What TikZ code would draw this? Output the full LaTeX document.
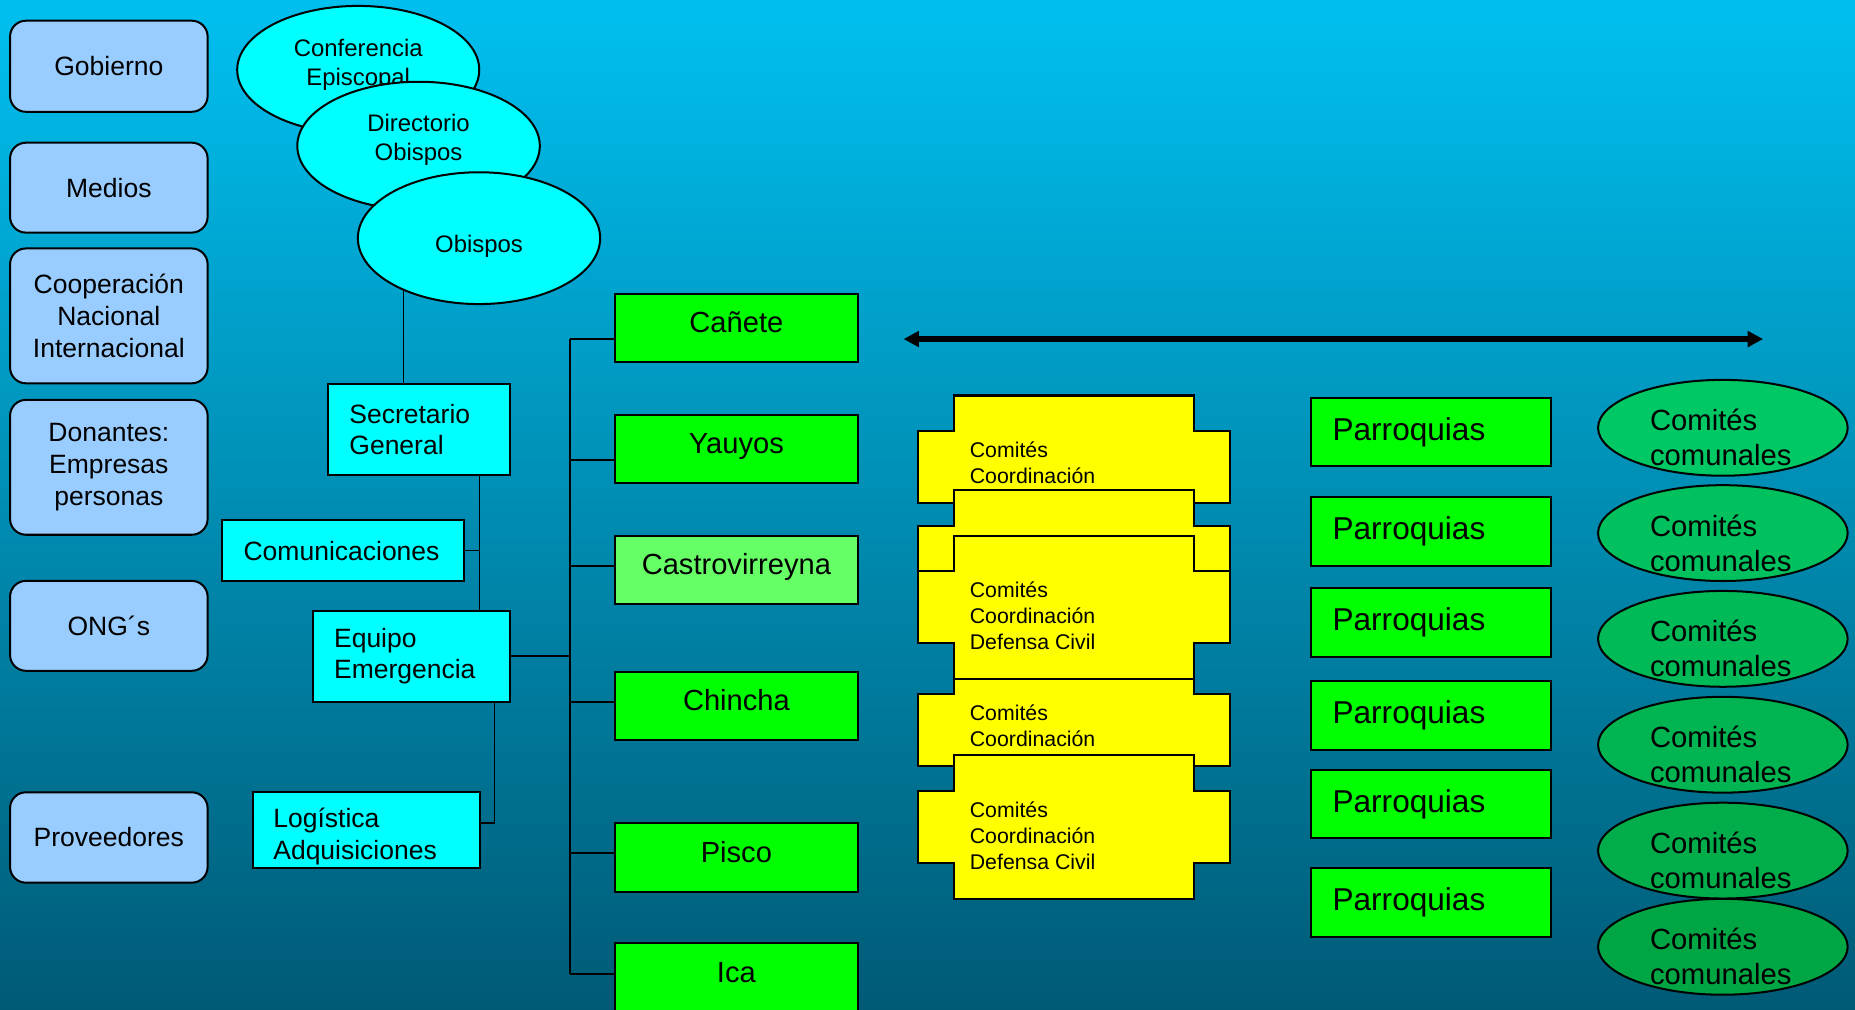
\documentclass[tikz,border=0pt]{standalone}
\usepackage{fontspec}
\setmainfont{Liberation Sans}
\usetikzlibrary{shapes.geometric,arrows.meta}

\definecolor{bgtop}{RGB}{0,192,240}
\definecolor{bgbot}{RGB}{0,90,118}
\definecolor{lblue}{RGB}{153,204,255}
\definecolor{aqua}{RGB}{0,255,255}
\definecolor{vgreen}{RGB}{0,255,0}
\definecolor{lgreen}{RGB}{102,255,102}
\definecolor{vyellow}{RGB}{255,255,0}
\definecolor{cgtop}{RGB}{0,200,100}
\definecolor{cgbot}{RGB}{0,166,68}

\tikzset{pics/comite/.style={code={
  \draw[comite] (0,0) -- ++(202.5,0) -- ++(0,30) -- ++(31,0) -- ++(0,61) -- ++(-31,0) -- ++(0,30)
    -- ++(-202.5,0) -- ++(0,-30) -- ++(-30.8,0) -- ++(0,-61) -- ++(30.8,0) -- cycle;}}}

\begin{document}
\begin{tikzpicture}[x=0.5pt,y=-0.5pt,
    leftbox/.style={draw,line width=0.85pt,fill=lblue,rounded corners=6.7pt,minimum width=83.5pt,
      align=center,font=\fontsize{11.2pt}{13.5pt}\selectfont},
    bell/.style={ellipse,draw,line width=0.85pt,fill=aqua,inner sep=0pt},
    belltxt/.style={align=center,inner sep=0pt,font=\fontsize{10.1pt}{12.1pt}\selectfont},
    cyanbox/.style={draw,line width=0.85pt,fill=aqua,inner xsep=9pt,inner ysep=0pt,align=left,
      font=\fontsize{11.2pt}{13.4pt}\selectfont},
    greenbox/.style={draw,line width=0.85pt,minimum width=102.45pt,minimum height=29pt,
      text height=0.75em,text depth=0.35em,font=\fontsize{12.3pt}{14.8pt}\selectfont},
    parbox/.style={draw,line width=0.85pt,fill=vgreen,inner xsep=9.15pt,inner ysep=0pt,text width=83.25pt,
      minimum height=28.9pt,align=left,font=\fontsize{13.35pt}{16pt}\selectfont},
    comite/.style={draw,line width=0.85pt,fill=vyellow},
    comtxt/.style={anchor=north west,inner sep=0pt,align=left,font=\fontsize{9pt}{10.9pt}\selectfont},
    comu/.style={ellipse,draw,line width=0.85pt,minimum width=105.5pt,minimum height=40.5pt,inner sep=0pt},
    comutxt/.style={anchor=west,inner sep=0pt,align=left,font=\fontsize{12.35pt}{14.8pt}\selectfont},
    link/.style={line width=0.7pt}]

  \useasboundingbox (0,0) rectangle (1568,853);
  \shade[top color=bgtop,bottom color=bgbot] (0,0) rectangle (1568,853);

  \foreach \n/\c/\h/\txt in {gob/56/38.5pt/Gobierno, med/158.6/38pt/Medios,
      coop/267/57pt/{Cooperación\\Nacional\\Internacional}, don/395/57pt/{Donantes:\\Empresas\\personas},
      ong/529/38pt/ONG´s, prov/707.9/38.2pt/Proveedores}
    \node[leftbox,minimum height=\h] (\n) at (92,\c) {\txt};

  \node[bell,minimum width=102.3pt,minimum height=54pt] (conf) at (302.8,59) {};
  \node[belltxt] (conft) at ([yshift=2.2pt]conf.center) {Conferencia\\Episcopal};
  \node[bell,minimum width=102.5pt,minimum height=54.2pt] (dir) at (353.8,123.3) {};
  \node[belltxt] (dirt) at ([yshift=2.6pt]dir.center) {Directorio\\Obispos};
  \node[bell,minimum width=102.4pt,minimum height=55.7pt] (obi) at (404.9,201.3) {};
  \node[belltxt] (obit) at ([yshift=-3.4pt]obi.center) {Obispos};

  \node[cyanbox,text width=58.85pt,minimum height=38.45pt] (sec) at (354.2,363) {Secretario\\General};
  \node[cyanbox,text width=84.3pt,minimum height=25.75pt] (com) at (290.2,465.35) {Comunicaciones};
  \node[cyanbox,text width=65.25pt,minimum height=38.45pt] (equ) at (347.65,554.65) {Equipo\\Emergencia};
  \node[cyanbox,minimum width=96.05pt,minimum height=32.15pt] (log) at (309.55,701.85) {};
  \node[anchor=west,inner sep=0pt,align=left,font=\fontsize{11.2pt}{13.4pt}\selectfont] (logt)
    at ([xshift=9pt,yshift=-2.6pt]log.west) {Logística\\Adquisiciones};

  \foreach \n/\c/\f/\txt in {can/277.15/vgreen/Cañete, yau/379.55/vgreen/Yauyos, cas/481.7/lgreen/Castrovirreyna,
      chi/596.8/vgreen/Chincha, pis/724.7/vgreen/Pisco, ica/826.4/vgreen/Ica}
    \node[greenbox,fill=\f] (\n) at (622.45,\c) {\txt};

  \draw[link] ([xshift=-6.5pt]sec.north) -- ([xshift=-6.5pt]sec.north |- obi.214);
  \coordinate (sg) at ([xshift=25.5pt]sec.south);
  \draw[link] (sg) -- (sg |- equ.north);
  \draw[link] (com.east) -- (com.east -| sg);
  \draw[link] ([xshift=35.1pt]equ.south) |- ([yshift=3.1pt]log.east);
  \coordinate (tr) at (481.8,0);
  \draw[link] (equ.east) -- (equ.east -| tr);
  \draw[link] ([yshift=-4.75pt]can.west -| tr) -- ([yshift=1.5pt]ica.west -| tr);
  \foreach \n/\s in {can/-4.75,yau/-4.6,cas/1.75,chi/1.85,pis/1.95,ica/1.5}
    \draw[link] ([yshift=\s pt]\n.west) -- ([yshift=\s pt]\n.west -| tr);

  \coordinate (al) at (763.8,286.6);
  \coordinate (ar) at (1490.3,286.6);
  \draw[line width=2.2pt,{Triangle[length=6.5pt,width=6.5pt]}-{Triangle[length=6.5pt,width=6.5pt]}] (al) -- (ar);

  \pic at (806.5,334.3) {comite};
  \node[comtxt] (cm1) at (819.4,373.3) {Comités\\Coordinación};
  \pic at (806.5,414.4) {comite};
  \pic at (806.5,556.6) {comite};
  \node[comtxt] (cm4) at (819.4,595.6) {Comités\\Coordinación};
  \pic at (806.5,452.8) {comite};
  \node[comtxt] (cm3) at (819.4,491.8) {Comités\\Coordinación\\Defensa Civil};
  \pic at (806.5,638.5) {comite};
  \node[comtxt] (cm5) at (819.4,677.5) {Comités\\Coordinación\\Defensa Civil};

  \foreach \c [count=\i] in {365.4,449.35,526.1,604.85,679.6,762.75}
    \node[parbox] (par\i) at (1209.65,\c) {Parroquias};

  \foreach \c/\p [count=\i] in {361.6/100,450.6/80,540/60,629.5/40,719/20,800.3/0} {
    \node[comu,fill=cgtop!\p!cgbot] (cc\i) at (1456.3,\c) {};
    \node[comutxt] (cct\i) at (1394.4,\c+8.4) {Comités\\comunales};
  }
\end{tikzpicture}
\end{document}
